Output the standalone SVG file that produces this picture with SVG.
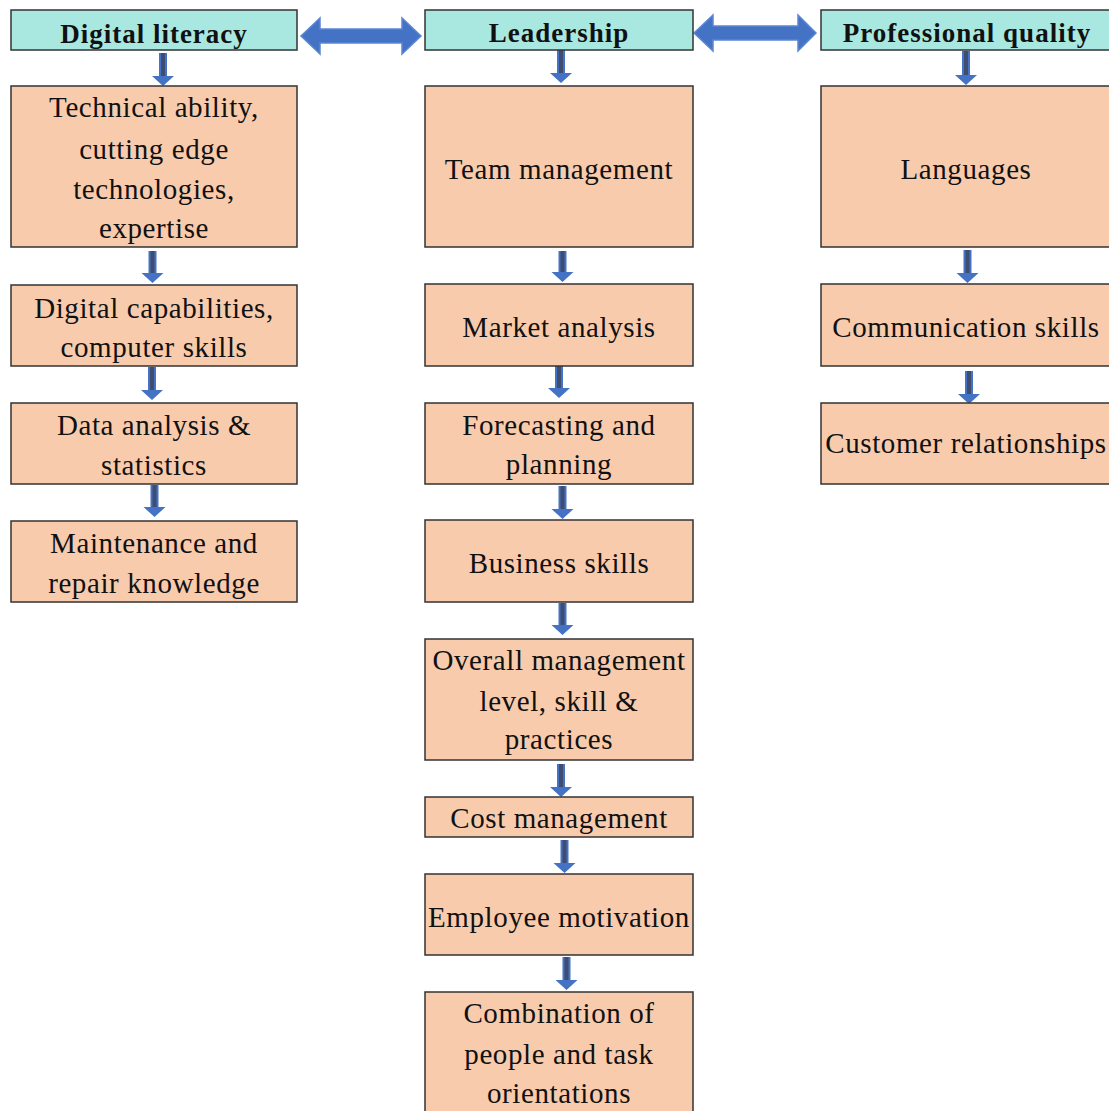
<svg xmlns="http://www.w3.org/2000/svg" width="1109" height="1111" viewBox="0 0 1109 1111">
  <style>
    .head { fill: #a9e8e0; stroke: #333333; stroke-width: 1.5; }
    .box { fill: #f8cbad; stroke: #333333; stroke-width: 1.5; }
    .ht { font-family: "Liberation Serif", "Times New Roman", serif; font-size: 27px; font-weight: bold; letter-spacing: 1px; fill: #111111; text-anchor: middle; }
    .bt { font-family: "Liberation Serif", "Times New Roman", serif; font-size: 29px; letter-spacing: 0.6px; fill: #111111; text-anchor: middle; }
    .dbl { fill: #4472c4; stroke: #5b87d2; stroke-width: 1.5; }
    .down { fill: #4472c4; }
    .core { fill: #3f4d70; }
  </style>
  <rect width="1109" height="1111" fill="#ffffff"/>

  <!-- connectors -->
  <g id="connectors">
    <path class="dbl" d="M301,36 L320,18 V29 H402 V18 L421,36 L402,54 V43 H320 V54 Z"/>
    <path class="dbl" d="M694,33 L713,15 V26 H798 V15 L816,33 L798,51 V40 H713 V51 Z"/>

    <!-- left column -->
    <path class="down" d="M159,53 H167 V76 H174 L163,86 L152,76 H159 Z"/><rect class="core" x="161" y="53" width="4" height="23"/>
    <path class="down" d="M148.5,251 H156.5 V273 H163.5 L152.5,283 L141.5,273 H148.5 Z"/><rect class="core" x="150.5" y="251" width="4" height="22"/>
    <path class="down" d="M148,367 H156 V390 H163 L152,400 L141,390 H148 Z"/><rect class="core" x="150" y="367" width="4" height="23"/>
    <path class="down" d="M150.5,485 H158.5 V507 H165.5 L154.5,517 L143.5,507 H150.5 Z"/><rect class="core" x="152.5" y="485" width="4" height="22"/>

    <!-- middle column -->
    <path class="down" d="M557,50 H565 V73 H572 L561,83 L550,73 H557 Z"/><rect class="core" x="559" y="50" width="4" height="23"/>
    <path class="down" d="M558.5,251 H566.5 V272 H573.5 L562.5,282 L551.5,272 H558.5 Z"/><rect class="core" x="560.5" y="251" width="4" height="21"/>
    <path class="down" d="M555,366 H563 V388 H570 L559,398 L548,388 H555 Z"/><rect class="core" x="557" y="366" width="4" height="22"/>
    <path class="down" d="M558.5,486 H566.5 V509 H573.5 L562.5,519 L551.5,509 H558.5 Z"/><rect class="core" x="560.5" y="486" width="4" height="23"/>
    <path class="down" d="M558.5,603 H566.5 V625 H573.5 L562.5,635 L551.5,625 H558.5 Z"/><rect class="core" x="560.5" y="603" width="4" height="22"/>
    <path class="down" d="M557,764 H565 V787 H572 L561,797 L550,787 H557 Z"/><rect class="core" x="559" y="764" width="4" height="23"/>
    <path class="down" d="M560.5,840 H568.5 V863 H575.5 L564.5,873 L553.5,863 H560.5 Z"/><rect class="core" x="562.5" y="840" width="4" height="23"/>
    <path class="down" d="M562.5,957 H570.5 V980 H577.5 L566.5,990 L555.5,980 H562.5 Z"/><rect class="core" x="564.5" y="957" width="4" height="23"/>

    <!-- right column -->
    <path class="down" d="M962,51 H970 V75 H977 L966,85 L955,75 H962 Z"/><rect class="core" x="964" y="51" width="4" height="24"/>
    <path class="down" d="M963.5,250 H971.5 V273 H978.5 L967.5,283 L956.5,273 H963.5 Z"/><rect class="core" x="965.5" y="250" width="4" height="23"/>
    <path class="down" d="M965,371 H973 V394 H980 L969,404 L958,394 H965 Z"/><rect class="core" x="967" y="371" width="4" height="23"/>
  </g>

  <!-- column headers -->
  <g id="digital-literacy">
    <rect class="head" x="11" y="10" width="286" height="40"/>
    <text class="ht" x="154" y="43">Digital literacy</text>
  </g>
  <g id="leadership">
    <rect class="head" x="425" y="10" width="268" height="40"/>
    <text class="ht" x="559" y="42">Leadership</text>
  </g>
  <g id="professional-quality">
    <rect class="head" x="821" y="10" width="292" height="40"/>
    <text class="ht" x="967" y="42">Professional quality</text>
  </g>

  <!-- digital literacy column -->
  <g id="technical-ability">
    <rect class="box" x="11" y="86" width="286" height="161"/>
    <text class="bt" x="154" y="117">Technical ability,</text>
    <text class="bt" x="154" y="159">cutting edge</text>
    <text class="bt" x="154" y="199">technologies,</text>
    <text class="bt" x="154" y="238">expertise</text>
  </g>
  <g id="digital-capabilities">
    <rect class="box" x="11" y="285" width="286" height="81"/>
    <text class="bt" x="154" y="318">Digital capabilities,</text>
    <text class="bt" x="154" y="357">computer skills</text>
  </g>
  <g id="data-analysis">
    <rect class="box" x="11" y="403" width="286" height="81"/>
    <text class="bt" x="154" y="435">Data analysis &amp;</text>
    <text class="bt" x="154" y="475">statistics</text>
  </g>
  <g id="maintenance">
    <rect class="box" x="11" y="521" width="286" height="81"/>
    <text class="bt" x="154" y="553">Maintenance and</text>
    <text class="bt" x="154" y="593">repair knowledge</text>
  </g>

  <!-- leadership column -->
  <g id="team-management">
    <rect class="box" x="425" y="86" width="268" height="161"/>
    <text class="bt" x="559" y="179">Team management</text>
  </g>
  <g id="market-analysis">
    <rect class="box" x="425" y="284" width="268" height="82"/>
    <text class="bt" x="559" y="337">Market analysis</text>
  </g>
  <g id="forecasting">
    <rect class="box" x="425" y="403" width="268" height="81"/>
    <text class="bt" x="559" y="435">Forecasting and</text>
    <text class="bt" x="559" y="474">planning</text>
  </g>
  <g id="business-skills">
    <rect class="box" x="425" y="520" width="268" height="82"/>
    <text class="bt" x="559" y="573">Business skills</text>
  </g>
  <g id="overall-management">
    <rect class="box" x="425" y="639" width="268" height="121"/>
    <text class="bt" x="559" y="670">Overall management</text>
    <text class="bt" x="559" y="711">level, skill &amp;</text>
    <text class="bt" x="559" y="749">practices</text>
  </g>
  <g id="cost-management">
    <rect class="box" x="425" y="797" width="268" height="40"/>
    <text class="bt" x="559" y="828">Cost management</text>
  </g>
  <g id="employee-motivation">
    <rect class="box" x="425" y="874" width="268" height="81"/>
    <text class="bt" x="559" y="927">Employee motivation</text>
  </g>
  <g id="combination">
    <rect class="box" x="425" y="992" width="268" height="130"/>
    <text class="bt" x="559" y="1023">Combination of</text>
    <text class="bt" x="559" y="1064">people and task</text>
    <text class="bt" x="559" y="1103">orientations</text>
  </g>

  <!-- professional quality column -->
  <g id="languages">
    <rect class="box" x="821" y="86" width="292" height="161"/>
    <text class="bt" x="966" y="179">Languages</text>
  </g>
  <g id="communication-skills">
    <rect class="box" x="821" y="284" width="292" height="82"/>
    <text class="bt" x="966" y="337">Communication skills</text>
  </g>
  <g id="customer-relationships">
    <rect class="box" x="821" y="403" width="292" height="81"/>
    <text class="bt" x="966" y="453">Customer relationships</text>
  </g>
</svg>
